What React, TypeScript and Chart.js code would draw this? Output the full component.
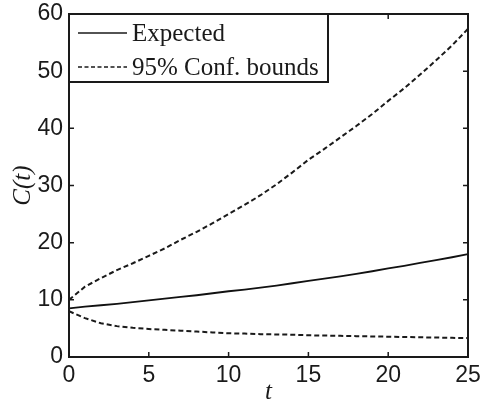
import React, { useEffect, useRef } from "react";
import { Chart, registerables } from "chart.js";

Chart.register(...registerables);

const tValues = [0, 1, 2, 3, 4, 5, 6, 7, 8, 9, 10, 11, 12, 13, 14, 15, 16, 17, 18, 19, 20, 21, 22, 23, 24, 25];
const expected = [8.5, 8.8, 9.05, 9.3, 9.6, 9.9, 10.2, 10.5, 10.8, 11.15, 11.5, 11.8, 12.15, 12.5, 12.9, 13.3, 13.7, 14.1, 14.55, 15.0, 15.5, 15.95, 16.45, 16.95, 17.45, 18.0];
const upperBound = [10.0, 12.3, 13.8, 15.2, 16.4, 17.7, 19.0, 20.5, 21.9, 23.4, 25.0, 26.6, 28.3, 30.2, 32.3, 34.5, 36.4, 38.4, 40.4, 42.5, 44.8, 47.0, 49.4, 51.9, 54.5, 57.4];
const lowerBound = [8.0, 6.8, 5.9, 5.4, 5.1, 4.9, 4.75, 4.6, 4.45, 4.3, 4.15, 4.1, 4.0, 3.95, 3.9, 3.8, 3.75, 3.7, 3.65, 3.6, 3.55, 3.5, 3.45, 3.4, 3.35, 3.3];
const xTicks = [0, 5, 10, 15, 20, 25];
const yTicks = [0, 10, 20, 30, 40, 50, 60];
const legendLabels = ["Expected", "95% Conf. bounds"];

const toPts = (ys: number[]) => tValues.map((t, i) => ({ x: t, y: ys[i] }));

const framePlugin = {
  id: "frameAndLegend",
  afterDatasetsDraw(chart: any) {
    const { ctx, chartArea } = chart;
    const { left, right, top, bottom } = chartArea;
    const xs = chart.scales.x;
    const ys = chart.scales.y;
    ctx.save();
    ctx.strokeStyle = "#1a1a1a";
    ctx.lineWidth = 2;
    ctx.setLineDash([]);
    ctx.strokeRect(left, top, right - left, bottom - top);
    ctx.lineWidth = 1.5;
    const tl = 5;
    ctx.beginPath();
    xTicks.forEach((v) => {
      const px = xs.getPixelForValue(v);
      ctx.moveTo(px, bottom);
      ctx.lineTo(px, bottom - tl);
      ctx.moveTo(px, top);
      ctx.lineTo(px, top + tl);
    });
    yTicks.forEach((v) => {
      const py = ys.getPixelForValue(v);
      ctx.moveTo(left, py);
      ctx.lineTo(left + tl, py);
      ctx.moveTo(right, py);
      ctx.lineTo(right - tl, py);
    });
    ctx.stroke();

    // legend box
    const bx = left, by = top, bw = 259, bh = 68;
    ctx.fillStyle = "#ffffff";
    ctx.fillRect(bx, by, bw, bh);
    ctx.lineWidth = 2;
    ctx.strokeStyle = "#1a1a1a";
    ctx.strokeRect(bx, by, bw, bh);
    const rows = [by + 19, by + 53];
    ctx.font = "25px 'Liberation Serif', serif";
    ctx.textBaseline = "middle";
    ctx.textAlign = "left";
    ctx.fillStyle = "#1a1a1a";
    legendLabels.forEach((label, i) => {
      ctx.beginPath();
      ctx.lineWidth = 1.6;
      ctx.setLineDash(i === 0 ? [] : [4, 2.5]);
      ctx.moveTo(bx + 9, rows[i]);
      ctx.lineTo(bx + 58, rows[i]);
      ctx.stroke();
      ctx.setLineDash([]);
      ctx.fillText(label, bx + 63, rows[i] + 1);
    });
    ctx.restore();
  },
};

const zeroPad = (s: any) => {
  s.paddingLeft = 0;
  s.paddingRight = 0;
  s.paddingTop = 0;
  s.paddingBottom = 0;
};

export default function App() {
  const ref = useRef<HTMLCanvasElement>(null);
  useEffect(() => {
    document.body.style.margin = "0";
    const chart = new Chart(ref.current!, {
      type: "line",
      data: {
        datasets: [
          {
            label: legendLabels[0],
            data: toPts(expected),
            borderColor: "#111111",
            borderWidth: 1.8,
            pointRadius: 0,
            tension: 0,
          },
          {
            label: legendLabels[1],
            data: toPts(upperBound),
            borderColor: "#1a1a1a",
            borderWidth: 2,
            borderDash: [5, 3],
            pointRadius: 0,
            tension: 0,
          },
          {
            label: "lower",
            data: toPts(lowerBound),
            borderColor: "#1a1a1a",
            borderWidth: 2,
            borderDash: [5, 3],
            pointRadius: 0,
            tension: 0,
          },
        ],
      },
      options: {
        animation: false,
        responsive: false,
        layout: { padding: { top: 14, right: 13, left: 0, bottom: 0 } },
        plugins: { legend: { display: false }, tooltip: { enabled: false } },
        scales: {
          x: {
            type: "linear",
            min: 0,
            max: 25,
            afterFit: (s: any) => { s.height = 48; zeroPad(s); },
            afterBuildTicks: (s: any) => { s.ticks = xTicks.map((v) => ({ value: v })); },
            grid: { display: false, drawTicks: false },
            border: { display: false },
            ticks: {
              color: "#1a1a1a",
              padding: 5,
              font: { family: "'Liberation Sans', Arial, sans-serif", size: 23 },
              maxRotation: 0,
            },
            title: {
              display: true,
              text: "t",
              color: "#1a1a1a",
              font: { family: "'Liberation Serif', serif", size: 25, style: "italic", lineHeight: 1 },
              padding: { top: 0, bottom: 0 },
            },
          },
          y: {
            type: "linear",
            min: 0,
            max: 60,
            afterFit: (s: any) => { s.width = 69; zeroPad(s); },
            afterBuildTicks: (s: any) => { s.ticks = yTicks.map((v) => ({ value: v })); },
            grid: { display: false, drawTicks: false },
            border: { display: false },
            ticks: {
              color: "#1a1a1a",
              padding: 6,
              font: { family: "'Liberation Sans', Arial, sans-serif", size: 23 },
            },
            title: {
              display: true,
              text: "C(t)",
              color: "#1a1a1a",
              font: { family: "'Liberation Serif', serif", size: 25, style: "italic", lineHeight: 1 },
              padding: { top: 11, bottom: 0 },
            },
          },
        },
      },
      plugins: [framePlugin],
    });
    return () => chart.destroy();
  }, []);
  return (
    <div style={{ position: "absolute", left: 0, top: 0, width: 481, height: 405 }}>
      <canvas ref={ref} width={481} height={405} style={{ width: 481, height: 405 }} />
    </div>
  );
}
